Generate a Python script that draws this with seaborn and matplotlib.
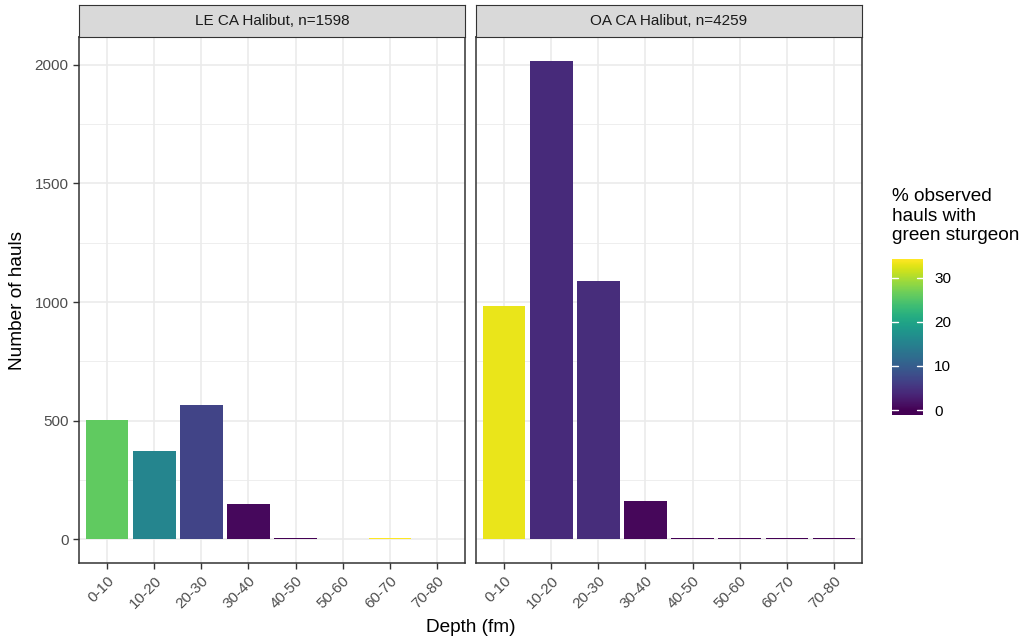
import numpy as np
import pandas as pd
import matplotlib
matplotlib.use("Agg")
import matplotlib.pyplot as plt
import matplotlib.colors as mcolors
import matplotlib.colorbar as mcolorbar
import seaborn as sns

# ---- data ----
depth_bins = ["0-10", "10-20", "20-30", "30-40", "40-50", "50-60", "60-70", "70-80"]
le_title = "LE CA Halibut, n=1598"
le_hauls = [504, 373, 565, 150, 3, np.nan, 3, np.nan]
le_pct = [25.8, 15.5, 6.9, 0.8, 0.0, np.nan, 34.2, np.nan]
oa_title = "OA CA Halibut, n=4259"
oa_hauls = [982, 2017, 1089, 161, 3, 3, 3, 3]
oa_pct = [33.0, 4.1, 4.3, 0.6, 0.0, 0.0, 0.0, 0.0]
y_ticks = [0, 500, 1000, 1500, 2000]
y_minor = [250, 750, 1250, 1750]
cbar_ticks = [0, 10, 20, 30]
legend_title = "% observed\nhauls with\ngreen sturgeon"
x_title = "Depth (fm)"
y_title = "Number of hauls"

sns.set_theme(style="white")
plt.rcParams["font.family"] = ["Liberation Sans", "DejaVu Sans"]

cmap = plt.get_cmap("viridis")
pmin, pmax = 0.0, 34.2
norm = mcolors.Normalize(vmin=pmin, vmax=pmax)

W, H = 1026, 640
fig = plt.figure(figsize=(W / 100, H / 100), dpi=100)
fig.patch.set_facecolor("white")

panel_top, panel_bot = 37, 563
strip_top = 5
lefts = [79, 476]
pw = 386

maxval = np.nanmax(oa_hauls + le_hauls)
ylo, yhi = -0.05 * maxval, 1.05 * maxval

panels = [(le_title, le_hauls, le_pct), (oa_title, oa_hauls, oa_pct)]
for i, (title, hauls, pct) in enumerate(panels):
    ax = fig.add_axes([lefts[i] / W, 1 - panel_bot / H, pw / W, (panel_bot - panel_top) / H])
    df = pd.DataFrame({"depth": depth_bins, "hauls": hauls, "pct": pct}).dropna()
    pal = {d: cmap(norm(p)) for d, p in zip(df["depth"], df["pct"])}
    sns.barplot(data=df, x="depth", y="hauls", hue="depth", palette=pal,
                order=depth_bins, hue_order=list(df["depth"]), width=0.9,
                saturation=1, legend=False, ax=ax, linewidth=0)
    ax.set_xlim(-0.6, len(depth_bins) - 1 + 0.6)
    ax.set_ylim(ylo, yhi)
    ax.set_yticks(y_ticks)
    ax.set_yticks(y_minor, minor=True)
    ax.set_axisbelow(True)
    ax.grid(which="major", color="#EBEBEB", lw=1.2)
    ax.grid(which="minor", axis="y", color="#EBEBEB", lw=0.6)
    ax.set_facecolor("white")
    for s in ax.spines.values():
        s.set_color("#333333")
        s.set_linewidth(1.1)
        s.set_visible(True)
    ax.set_xlabel("")
    ax.set_ylabel("")
    ax.tick_params(axis="both", which="major", colors="#333333", length=4.5, width=1.0,
                   labelsize=11, labelcolor="#4D4D4D", pad=3, bottom=True, left=(i == 0))
    ax.tick_params(axis="y", which="minor", length=0)
    ax.set_xticks(range(len(depth_bins)))
    ax.set_xticklabels(depth_bins, rotation=45, ha="right", rotation_mode="anchor")
    if i == 1:
        ax.set_yticklabels([])
    # strip
    sax = fig.add_axes([lefts[i] / W, 1 - panel_top / H, pw / W, (panel_top - strip_top) / H])
    sax.set_facecolor("#D9D9D9")
    sax.set_xticks([])
    sax.set_yticks([])
    for s in sax.spines.values():
        s.set_color("#333333")
        s.set_linewidth(0.8)
    sax.text(0.5, 0.5, title, ha="center", va="center", fontsize=11, color="#1A1A1A",
             transform=sax.transAxes)

fig.text((lefts[0] + lefts[1] + pw) / 2 / W, 1 - 627 / H, x_title, ha="center", va="center",
         fontsize=13.7, color="black")
fig.text(18 / W, 1 - (panel_top + panel_bot) / 2 / H, y_title, ha="center", va="center",
         rotation=90, fontsize=13.7, color="black")

# legend (colorbar)
fig.text(892 / W, 1 - 188 / H, legend_title, ha="left", va="top", fontsize=13.7,
         color="black", linespacing=1.2)
cax = fig.add_axes([892 / W, 1 - 415 / H, 31 / W, 156 / H])
bounds = np.linspace(pmin - 1.1, pmax, 300)
cb = mcolorbar.ColorbarBase(cax, cmap=cmap, norm=norm, boundaries=bounds,
                            orientation="vertical")
cb.outline.set_visible(False)
cb.set_ticks(cbar_ticks)
cax.tick_params(length=0, labelsize=11, labelcolor="black", pad=8)
for t in cbar_ticks:
    cax.axhline(t, xmin=0, xmax=0.2, color="white", lw=1)
    cax.axhline(t, xmin=0.8, xmax=1, color="white", lw=1)

fig.savefig("out.png", dpi=100)
